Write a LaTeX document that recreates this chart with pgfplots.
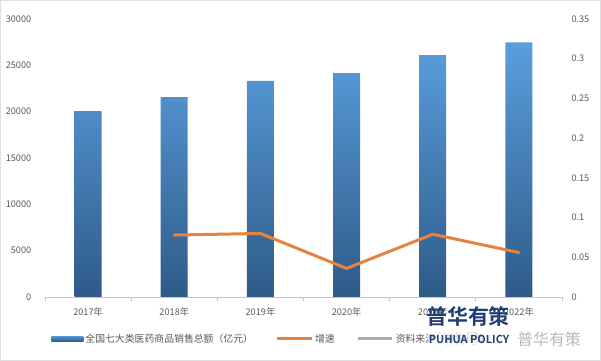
\documentclass[border=0pt]{standalone}
\usepackage{pgfplots}
\pgfplotsset{compat=1.18}
\usepackage{fontspec}
\setmainfont{Noto Sans CJK SC}[BoldFont={Noto Sans CJK SC Bold}]
\definecolor{bartop}{HTML}{5A9EDF}
\definecolor{barbot}{HTML}{2E5B87}
\definecolor{lineor}{HTML}{E4843F}
\definecolor{txt}{HTML}{595959}
\definecolor{navy}{HTML}{1F3E73}
\begin{document}
\begin{tikzpicture}
\useasboundingbox (0,0) rectangle (601bp,361bp);
\draw[gray!25, line width=1bp] (0.5bp,0.5bp) rectangle (600.5bp,360.5bp);
\begin{axis}[
  at={(45bp,64bp)}, anchor=south west,
  scale only axis, width=517bp, height=278bp,
  xmin=-0.5, xmax=5.5, ymin=0, ymax=30000,
  ytick={0,5000,10000,15000,20000,25000,30000},
  xtick={0,...,5},
  xticklabels={2017年,2018年,2019年,2020年,2021年,2022年},
  minor xtick={-0.5,0.5,...,5.5},
  axis x line*=bottom, axis y line*=left,
  y axis line style={draw=none},
  x axis line style={draw=gray!45, line width=0.8bp},
  major x tick style={draw=none}, ytick style={draw=none},
  minor x tick style={draw=gray!45, line width=0.8bp},
  minor tick length=4bp, tick align=outside,
  /pgf/number format/assume math mode=true,
  scaled y ticks=false,
  yticklabel={\pgfmathprintnumber[fixed,1000 sep={}]{\tick}},
  ticklabel style={font=\fontsize{9.2}{10}\selectfont, text=txt},
  yticklabel style={xshift=-6bp},
  xticklabel style={yshift=-3bp},
  legend style={draw=none, fill=none, at={(axis description cs:0.012,-0.151)}, anchor=west,
    font=\fontsize{9.9}{11}\selectfont, text=txt, inner sep=0pt,
    /tikz/every even column/.append style={column sep=20bp}},
  legend columns=3, legend cell align=left,
]
\addplot[ybar, bar width=27bp, draw=none, top color=bartop, bottom color=barbot,
  legend image code/.code={\shade[top color=bartop!80!barbot, bottom color=barbot] (0bp,-2.5bp) rectangle (32bp,2.5bp);}]
  coordinates {(0,20050) (1,21580) (2,23310) (3,24170) (4,26110) (5,27490)};
\addlegendentry{全国七大类医药商品销售总额（亿元）}
\addlegendimage{color=lineor, line width=3bp, legend image code/.code={\draw (0bp,0bp) -- (35bp,0bp);}}
\addlegendentry{增速}
\addlegendimage{color=gray!65, line width=3bp, legend image code/.code={\draw (0bp,0bp) -- (34bp,0bp);}}
\addlegendentry{资料来源：普华有策}
\end{axis}
\begin{axis}[
  at={(45bp,64bp)}, anchor=south west,
  scale only axis, width=517bp, height=278bp,
  xmin=-0.5, xmax=5.5, ymin=0, ymax=0.35,
  ytick={0,0.05,0.1,0.15,0.2,0.25,0.3,0.35},
  axis y line*=right, axis x line=none,
  y axis line style={draw=none}, ytick style={draw=none},
  /pgf/number format/assume math mode=true,
  yticklabel={\pgfmathprintnumber[fixed,precision=2]{\tick}},
  ticklabel style={font=\fontsize{9.2}{10}\selectfont, text=txt},
  yticklabel style={xshift=6bp},
]
\addplot[lineor, line width=3bp, line join=round, line cap=round]
  coordinates {(1,0.078) (2,0.080) (3,0.036) (4,0.079) (5,0.056)};
\end{axis}
\node[font=\fontsize{15}{15}\selectfont, text=gray!25] at (466bp,22bp) {公众号 ·};
\node[font=\fontsize{16}{16}\selectfont, text=gray!55] at (549bp,22bp) {普华有策};
\node[font=\bfseries\fontsize{21}{21}\selectfont, text=navy] at (468bp,45bp) {普华有策};
\node[font=\bfseries\fontsize{11}{11}\selectfont, text=navy, fill=white, fill opacity=0.6, text opacity=1, inner sep=1bp] at (469bp,22bp) {PUHUA POLICY};
\end{tikzpicture}
\end{document}
